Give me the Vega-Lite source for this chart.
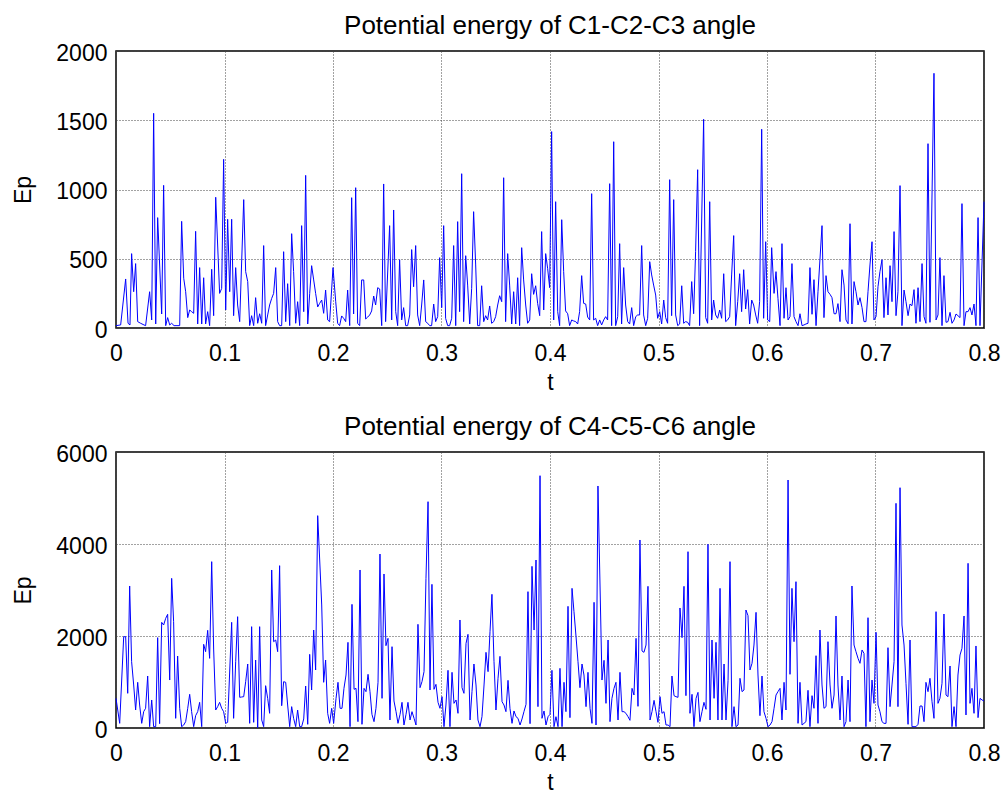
{
"$schema": "https://vega.github.io/schema/vega-lite/v6.json",
"background": "white",
"padding": {"left": 12, "top": 12, "right": 20, "bottom": 2},
"config": {
 "font": "Liberation Sans",
 "view": {"stroke": "#000", "strokeWidth": 1.5},
 "axis": {"labelFontSize": 23, "labelColor": "#000", "titleFontSize": 23, "titleFontWeight": "normal", "titleColor": "#000", "domain": false, "ticks": false, "grid": true, "gridColor": "#444", "gridDash": [1, 2], "gridWidth": 1, "labelFlush": false, "labelOverlap": false, "labelFont": "Liberation Sans", "titleFont": "Liberation Sans"},
 "axisX": {"labelPadding": 14, "titlePadding": 6},
 "axisY": {"labelPadding": 9, "titlePadding": 20, "labelOffset": 2},
 "title": {"fontSize": 26, "fontWeight": "normal", "color": "#000", "offset": 3, "font": "Liberation Sans"},
 "concat": {"spacing": 18}
},
"datasets": {
"a": [
{"t":0,"ep":17},{"t":0.0043,"ep":22},{"t":0.0089,"ep":354},{"t":0.0111,"ep":34},{"t":0.0129,"ep":22},{"t":0.0144,"ep":537},{"t":0.0163,"ep":262},{"t":0.0181,"ep":465},{"t":0.02,"ep":46},{"t":0.0227,"ep":34},{"t":0.0258,"ep":22},{"t":0.0273,"ep":17},{"t":0.031,"ep":262},{"t":0.0329,"ep":58},{"t":0.0347,"ep":1550},{"t":0.0366,"ep":29},{"t":0.0384,"ep":797},{"t":0.0421,"ep":101},{"t":0.0439,"ep":1030},{"t":0.0458,"ep":17},{"t":0.0476,"ep":75},{"t":0.0495,"ep":22},{"t":0.0513,"ep":34},{"t":0.0535,"ep":17},{"t":0.0562,"ep":17},{"t":0.0587,"ep":17},{"t":0.0605,"ep":770},{"t":0.0624,"ep":359},{"t":0.0642,"ep":262},{"t":0.0661,"ep":75},{"t":0.0679,"ep":130},{"t":0.0697,"ep":118},{"t":0.0716,"ep":106},{"t":0.0734,"ep":698},{"t":0.0753,"ep":29},{"t":0.0771,"ep":436},{"t":0.079,"ep":29},{"t":0.0808,"ep":363},{"t":0.0826,"ep":29},{"t":0.0845,"ep":118},{"t":0.0863,"ep":17},{"t":0.0882,"ep":424},{"t":0.09,"ep":89},{"t":0.0919,"ep":944},{"t":0.0955,"ep":250},{"t":0.0974,"ep":286},{"t":0.0992,"ep":1218},{"t":0.1011,"ep":130},{"t":0.1029,"ep":785},{"t":0.1048,"ep":262},{"t":0.1066,"ep":785},{"t":0.1084,"ep":89},{"t":0.1103,"ep":436},{"t":0.1121,"ep":166},{"t":0.114,"ep":46},{"t":0.1177,"ep":927},{"t":0.1195,"ep":407},{"t":0.1214,"ep":335},{"t":0.1232,"ep":17},{"t":0.125,"ep":89},{"t":0.1269,"ep":17},{"t":0.1287,"ep":219},{"t":0.1306,"ep":34},{"t":0.1324,"ep":103},{"t":0.1343,"ep":34},{"t":0.1361,"ep":595},{"t":0.1379,"ep":17},{"t":0.1398,"ep":94},{"t":0.1416,"ep":166},{"t":0.1435,"ep":214},{"t":0.1453,"ep":250},{"t":0.1472,"ep":436},{"t":0.149,"ep":46},{"t":0.1508,"ep":17},{"t":0.1527,"ep":17},{"t":0.1545,"ep":551},{"t":0.1564,"ep":46},{"t":0.1582,"ep":320},{"t":0.1601,"ep":17},{"t":0.1619,"ep":681},{"t":0.1637,"ep":407},{"t":0.1656,"ep":34},{"t":0.1674,"ep":190},{"t":0.1693,"ep":17},{"t":0.1711,"ep":739},{"t":0.173,"ep":118},{"t":0.1748,"ep":1102},{"t":0.1767,"ep":29},{"t":0.1785,"ep":248},{"t":0.1803,"ep":450},{"t":0.1822,"ep":347},{"t":0.184,"ep":250},{"t":0.1859,"ep":152},{"t":0.1877,"ep":178},{"t":0.1896,"ep":202},{"t":0.1914,"ep":106},{"t":0.1932,"ep":274},{"t":0.1951,"ep":58},{"t":0.1969,"ep":46},{"t":0.2,"ep":436},
{"t":0.2025,"ep":190},{"t":0.2043,"ep":34},{"t":0.2061,"ep":17},{"t":0.208,"ep":87},{"t":0.2098,"ep":70},{"t":0.2117,"ep":46},{"t":0.2135,"ep":274},{"t":0.2154,"ep":17},{"t":0.2172,"ep":941},{"t":0.219,"ep":101},{"t":0.2209,"ep":1013},{"t":0.2227,"ep":34},{"t":0.2246,"ep":17},{"t":0.2264,"ep":347},{"t":0.2283,"ep":347},{"t":0.2301,"ep":65},{"t":0.232,"ep":79},{"t":0.2338,"ep":94},{"t":0.2356,"ep":123},{"t":0.2375,"ep":231},{"t":0.2393,"ep":166},{"t":0.2412,"ep":291},{"t":0.243,"ep":282},{"t":0.2449,"ep":17},{"t":0.2467,"ep":1040},{"t":0.2485,"ep":46},{"t":0.2522,"ep":739},{"t":0.2541,"ep":58},{"t":0.2559,"ep":852},{"t":0.2578,"ep":118},{"t":0.2596,"ep":17},{"t":0.2614,"ep":493},{"t":0.2633,"ep":58},{"t":0.2651,"ep":147},{"t":0.267,"ep":17},{"t":0.2688,"ep":17},{"t":0.2707,"ep":94},{"t":0.2725,"ep":566},{"t":0.2743,"ep":298},{"t":0.2762,"ep":595},{"t":0.278,"ep":94},{"t":0.2799,"ep":17},{"t":0.2817,"ep":166},{"t":0.2836,"ep":347},{"t":0.2854,"ep":46},{"t":0.2873,"ep":34},{"t":0.2891,"ep":17},{"t":0.2909,"ep":17},{"t":0.2928,"ep":173},{"t":0.2946,"ep":46},{"t":0.2965,"ep":82},{"t":0.2983,"ep":508},{"t":0.3002,"ep":147},{"t":0.302,"ep":739},{"t":0.3038,"ep":70},{"t":0.3057,"ep":17},{"t":0.3075,"ep":17},{"t":0.3094,"ep":70},{"t":0.3112,"ep":595},{"t":0.3131,"ep":17},{"t":0.3149,"ep":768},{"t":0.3167,"ep":118},{"t":0.3186,"ep":1114},{"t":0.3204,"ep":46},{"t":0.3223,"ep":522},{"t":0.3241,"ep":310},{"t":0.326,"ep":29},{"t":0.3278,"ep":286},{"t":0.3296,"ep":840},{"t":0.3315,"ep":455},{"t":0.3333,"ep":17},{"t":0.3352,"ep":17},{"t":0.337,"ep":305},{"t":0.3389,"ep":46},{"t":0.3407,"ep":89},{"t":0.3425,"ep":58},{"t":0.3444,"ep":159},{"t":0.3462,"ep":34},{"t":0.3481,"ep":46},{"t":0.3499,"ep":82},{"t":0.3518,"ep":166},{"t":0.3536,"ep":233},{"t":0.3555,"ep":190},{"t":0.3573,"ep":1085},{"t":0.3591,"ep":46},{"t":0.361,"ep":537},{"t":0.3628,"ep":310},{"t":0.3647,"ep":29},{"t":0.3665,"ep":262},{"t":0.3684,"ep":29},{"t":0.3702,"ep":363},{"t":0.372,"ep":17},{"t":0.3739,"ep":580},{"t":0.3757,"ep":347},{"t":0.3776,"ep":166},{"t":0.3794,"ep":34},{"t":0.3813,"ep":58},{"t":0.3831,"ep":392},{"t":0.3849,"ep":243},{"t":0.3868,"ep":305},{"t":0.3886,"ep":178},{"t":0.3905,"ep":89},{"t":0.3923,"ep":696},{"t":0.3942,"ep":130},{"t":0.396,"ep":537},{"t":0.3978,"ep":431},{"t":0.3997,"ep":291},{"t":0.4015,"ep":1418},
{"t":0.4034,"ep":58},{"t":0.4052,"ep":912},{"t":0.4071,"ep":118},{"t":0.4089,"ep":17},{"t":0.4108,"ep":782},{"t":0.4126,"ep":407},{"t":0.4144,"ep":123},{"t":0.4163,"ep":103},{"t":0.4181,"ep":17},{"t":0.42,"ep":58},{"t":0.4218,"ep":51},{"t":0.4237,"ep":46},{"t":0.4255,"ep":29},{"t":0.4273,"ep":118},{"t":0.4292,"ep":378},{"t":0.431,"ep":178},{"t":0.4329,"ep":173},{"t":0.4347,"ep":79},{"t":0.4366,"ep":58},{"t":0.4384,"ep":970},{"t":0.4402,"ep":58},{"t":0.4421,"ep":70},{"t":0.4439,"ep":17},{"t":0.4458,"ep":58},{"t":0.4476,"ep":22},{"t":0.4495,"ep":58},{"t":0.4513,"ep":82},{"t":0.4531,"ep":58},{"t":0.455,"ep":1042},{"t":0.4568,"ep":17},{"t":0.4587,"ep":1345},{"t":0.4605,"ep":17},{"t":0.4624,"ep":82},{"t":0.4642,"ep":609},{"t":0.466,"ep":29},{"t":0.4679,"ep":436},{"t":0.4697,"ep":166},{"t":0.4716,"ep":46},{"t":0.4734,"ep":29},{"t":0.4753,"ep":147},{"t":0.4771,"ep":17},{"t":0.479,"ep":82},{"t":0.4808,"ep":94},{"t":0.4826,"ep":94},{"t":0.4845,"ep":595},{"t":0.4863,"ep":94},{"t":0.4882,"ep":17},{"t":0.49,"ep":70},{"t":0.4919,"ep":479},{"t":0.4937,"ep":383},{"t":0.4955,"ep":310},{"t":0.4974,"ep":238},{"t":0.4992,"ep":70},{"t":0.5011,"ep":118},{"t":0.5029,"ep":29},{"t":0.5048,"ep":202},{"t":0.5066,"ep":75},{"t":0.5084,"ep":34},{"t":0.5103,"ep":1071},{"t":0.5121,"ep":89},{"t":0.514,"ep":927},{"t":0.5158,"ep":94},{"t":0.5177,"ep":17},{"t":0.5195,"ep":29},{"t":0.5214,"ep":305},{"t":0.5232,"ep":34},{"t":0.525,"ep":46},{"t":0.5269,"ep":41},{"t":0.5287,"ep":17},{"t":0.5306,"ep":335},{"t":0.5324,"ep":103},{"t":0.5342,"ep":551},{"t":0.5361,"ep":1143},{"t":0.5379,"ep":17},{"t":0.5416,"ep":1507},{"t":0.5435,"ep":75},{"t":0.5453,"ep":34},{"t":0.5472,"ep":912},{"t":0.549,"ep":58},{"t":0.5508,"ep":202},{"t":0.5527,"ep":94},{"t":0.5545,"ep":70},{"t":0.5564,"ep":130},{"t":0.5582,"ep":70},{"t":0.5601,"ep":392},{"t":0.5619,"ep":46},{"t":0.5637,"ep":58},{"t":0.5656,"ep":82},{"t":0.5674,"ep":383},{"t":0.5693,"ep":667},{"t":0.5711,"ep":17},{"t":0.573,"ep":190},{"t":0.5748,"ep":392},{"t":0.5766,"ep":118},{"t":0.5785,"ep":421},{"t":0.5803,"ep":137},{"t":0.5822,"ep":277},{"t":0.584,"ep":29},{"t":0.5859,"ep":202},{"t":0.5877,"ep":166},{"t":0.5896,"ep":94},{"t":0.5914,"ep":34},{"t":0.5932,"ep":190},{"t":0.5951,"ep":1435},{"t":0.5969,"ep":70},{"t":0.5988,"ep":623},{"t":0.6006,"ep":58},{"t":0.6025,"ep":46},{"t":0.6043,"ep":580},
{"t":0.6065,"ep":250},{"t":0.6083,"ep":407},{"t":0.6101,"ep":214},{"t":0.612,"ep":17},{"t":0.6138,"ep":609},{"t":0.6157,"ep":70},{"t":0.6175,"ep":291},{"t":0.6194,"ep":58},{"t":0.6212,"ep":82},{"t":0.623,"ep":465},{"t":0.6249,"ep":82},{"t":0.6267,"ep":46},{"t":0.6286,"ep":17},{"t":0.6304,"ep":103},{"t":0.6323,"ep":17},{"t":0.6341,"ep":22},{"t":0.6359,"ep":29},{"t":0.6378,"ep":34},{"t":0.6396,"ep":436},{"t":0.6415,"ep":99},{"t":0.6433,"ep":349},{"t":0.6452,"ep":17},{"t":0.647,"ep":262},{"t":0.6507,"ep":739},{"t":0.6525,"ep":75},{"t":0.6544,"ep":378},{"t":0.6562,"ep":262},{"t":0.6581,"ep":243},{"t":0.6599,"ep":219},{"t":0.6618,"ep":103},{"t":0.6636,"ep":103},{"t":0.6654,"ep":176},{"t":0.6673,"ep":46},{"t":0.6691,"ep":421},{"t":0.671,"ep":310},{"t":0.6728,"ep":58},{"t":0.6747,"ep":31},{"t":0.6765,"ep":753},{"t":0.6783,"ep":29},{"t":0.6802,"ep":335},{"t":0.682,"ep":262},{"t":0.6839,"ep":166},{"t":0.6857,"ep":219},{"t":0.6876,"ep":147},{"t":0.6894,"ep":46},{"t":0.6912,"ep":46},{"t":0.6931,"ep":262},{"t":0.6949,"ep":455},{"t":0.6968,"ep":623},{"t":0.6986,"ep":58},{"t":0.7005,"ep":82},{"t":0.7023,"ep":298},{"t":0.7041,"ep":407},{"t":0.706,"ep":493},{"t":0.7078,"ep":75},{"t":0.7097,"ep":363},{"t":0.7115,"ep":94},{"t":0.7134,"ep":450},{"t":0.7152,"ep":190},{"t":0.7171,"ep":696},{"t":0.7189,"ep":89},{"t":0.7207,"ep":262},{"t":0.7226,"ep":1028},{"t":0.7244,"ep":17},{"t":0.7263,"ep":274},{"t":0.7281,"ep":190},{"t":0.73,"ep":89},{"t":0.7318,"ep":173},{"t":0.7336,"ep":161},{"t":0.7355,"ep":277},{"t":0.7373,"ep":34},{"t":0.7392,"ep":291},{"t":0.741,"ep":46},{"t":0.7429,"ep":465},{"t":0.7447,"ep":82},{"t":0.7465,"ep":34},{"t":0.7484,"ep":1331},{"t":0.7502,"ep":41},{"t":0.7539,"ep":1839},{"t":0.7558,"ep":58},{"t":0.7576,"ep":94},{"t":0.7594,"ep":508},{"t":0.7613,"ep":17},{"t":0.7631,"ep":378},{"t":0.765,"ep":41},{"t":0.7668,"ep":46},{"t":0.7687,"ep":113},{"t":0.7705,"ep":34},{"t":0.7724,"ep":58},{"t":0.7742,"ep":101},{"t":0.776,"ep":89},{"t":0.7779,"ep":75},{"t":0.7797,"ep":898},{"t":0.7816,"ep":17},{"t":0.7834,"ep":118},{"t":0.7853,"ep":118},{"t":0.7871,"ep":147},{"t":0.7889,"ep":94},{"t":0.7908,"ep":173},{"t":0.7926,"ep":17},{"t":0.7945,"ep":797},{"t":0.7963,"ep":17},{"t":0.8,"ep":912}
],
"b": [
{"t":0,"ep":645},{"t":0.0034,"ep":101},{"t":0.0071,"ep":1985},{"t":0.0089,"ep":1985},{"t":0.0108,"ep":754},{"t":0.0126,"ep":3087},{"t":0.0144,"ep":1442},{"t":0.0163,"ep":935},{"t":0.0181,"ep":391},{"t":0.02,"ep":993},{"t":0.0218,"ep":500},{"t":0.0237,"ep":101},{"t":0.0255,"ep":355},{"t":0.0273,"ep":428},{"t":0.0292,"ep":1130},{"t":0.031,"ep":29},{"t":0.0329,"ep":609},{"t":0.0347,"ep":29},{"t":0.0366,"ep":29},{"t":0.0384,"ep":1964},{"t":0.0402,"ep":94},{"t":0.0421,"ep":2297},{"t":0.0439,"ep":2239},{"t":0.0458,"ep":2384},{"t":0.0476,"ep":2471},{"t":0.0495,"ep":1043},{"t":0.0513,"ep":3253},{"t":0.0531,"ep":2312},{"t":0.055,"ep":210},{"t":0.0568,"ep":1565},{"t":0.0587,"ep":428},{"t":0.0605,"ep":29},{"t":0.0624,"ep":65},{"t":0.0642,"ep":138},{"t":0.0661,"ep":428},{"t":0.0679,"ep":732},{"t":0.0697,"ep":355},{"t":0.0716,"ep":29},{"t":0.0734,"ep":268},{"t":0.0753,"ep":355},{"t":0.0771,"ep":558},{"t":0.079,"ep":29},{"t":0.0808,"ep":1819},{"t":0.0826,"ep":1659},{"t":0.0845,"ep":2123},{"t":0.0863,"ep":1514},{"t":0.0882,"ep":3616},{"t":0.09,"ep":1717},{"t":0.0919,"ep":391},{"t":0.0937,"ep":464},{"t":0.0955,"ep":558},{"t":0.0974,"ep":428},{"t":0.0992,"ep":355},{"t":0.1011,"ep":101},{"t":0.1029,"ep":123},{"t":0.1066,"ep":2297},{"t":0.1084,"ep":210},{"t":0.1103,"ep":1442},{"t":0.1121,"ep":2420},{"t":0.114,"ep":667},{"t":0.1158,"ep":674},{"t":0.1177,"ep":681},{"t":0.1195,"ep":1007},{"t":0.1214,"ep":1391},{"t":0.1232,"ep":101},{"t":0.125,"ep":2203},{"t":0.1269,"ep":123},{"t":0.1287,"ep":1478},{"t":0.1306,"ep":7},{"t":0.1324,"ep":2203},{"t":0.1343,"ep":174},{"t":0.1361,"ep":29},{"t":0.1379,"ep":920},{"t":0.1398,"ep":645},{"t":0.1416,"ep":319},{"t":0.1435,"ep":3435},{"t":0.1453,"ep":1877},{"t":0.1472,"ep":1913},{"t":0.149,"ep":1659},{"t":0.1508,"ep":3529},{"t":0.1527,"ep":485},{"t":0.1545,"ep":1007},{"t":0.1564,"ep":993},{"t":0.1582,"ep":500},{"t":0.1601,"ep":29},{"t":0.1619,"ep":464},{"t":0.1637,"ep":210},{"t":0.1656,"ep":29},{"t":0.1674,"ep":391},{"t":0.1693,"ep":29},{"t":0.1711,"ep":29},{"t":0.173,"ep":196},{"t":0.1748,"ep":913},{"t":0.1767,"ep":80},{"t":0.1785,"ep":1601},{"t":0.1803,"ep":826},{"t":0.1822,"ep":2130},{"t":0.184,"ep":1261},{"t":0.1859,"ep":4616},{"t":0.1896,"ep":2674},{"t":0.1914,"ep":993},{"t":0.1932,"ep":1478},{"t":0.1951,"ep":319},{"t":0.1969,"ep":101},{"t":0.1988,"ep":428},{"t":0.2006,"ep":101},
{"t":0.2028,"ep":645},{"t":0.2046,"ep":993},{"t":0.2065,"ep":428},{"t":0.2083,"ep":428},{"t":0.2101,"ep":862},{"t":0.212,"ep":1152},{"t":0.2138,"ep":1862},{"t":0.2157,"ep":29},{"t":0.2175,"ep":2688},{"t":0.2194,"ep":841},{"t":0.2212,"ep":862},{"t":0.223,"ep":138},{"t":0.2249,"ep":3435},{"t":0.2267,"ep":80},{"t":0.2286,"ep":862},{"t":0.2304,"ep":790},{"t":0.2323,"ep":1167},{"t":0.2341,"ep":790},{"t":0.2359,"ep":297},{"t":0.2378,"ep":138},{"t":0.2396,"ep":428},{"t":0.2415,"ep":993},{"t":0.2433,"ep":3782},{"t":0.2452,"ep":645},{"t":0.247,"ep":3348},{"t":0.2488,"ep":1790},{"t":0.2507,"ep":1949},{"t":0.2525,"ep":174},{"t":0.2544,"ep":1768},{"t":0.2562,"ep":587},{"t":0.2581,"ep":355},{"t":0.2599,"ep":101},{"t":0.2618,"ep":297},{"t":0.2636,"ep":558},{"t":0.2654,"ep":65},{"t":0.2673,"ep":297},{"t":0.2691,"ep":558},{"t":0.271,"ep":174},{"t":0.2728,"ep":355},{"t":0.2747,"ep":210},{"t":0.2765,"ep":65},{"t":0.2783,"ep":2254},{"t":0.2802,"ep":877},{"t":0.282,"ep":1007},{"t":0.2839,"ep":1225},{"t":0.2857,"ep":3253},{"t":0.2876,"ep":4920},{"t":0.2894,"ep":826},{"t":0.2912,"ep":3123},{"t":0.2931,"ep":841},{"t":0.2949,"ep":949},{"t":0.2968,"ep":558},{"t":0.2986,"ep":428},{"t":0.3005,"ep":681},{"t":0.3023,"ep":29},{"t":0.3041,"ep":500},{"t":0.306,"ep":1254},{"t":0.3078,"ep":29},{"t":0.3097,"ep":1210},{"t":0.3115,"ep":536},{"t":0.3134,"ep":609},{"t":0.3152,"ep":319},{"t":0.317,"ep":2348},{"t":0.3189,"ep":877},{"t":0.3207,"ep":754},{"t":0.3226,"ep":1840},{"t":0.3244,"ep":2036},{"t":0.3263,"ep":174},{"t":0.3281,"ep":790},{"t":0.3299,"ep":1391},{"t":0.3318,"ep":935},{"t":0.3336,"ep":174},{"t":0.3355,"ep":29},{"t":0.3373,"ep":246},{"t":0.3392,"ep":935},{"t":0.341,"ep":1645},{"t":0.3429,"ep":1225},{"t":0.3447,"ep":2094},{"t":0.3465,"ep":2906},{"t":0.3484,"ep":1442},{"t":0.3502,"ep":391},{"t":0.3521,"ep":1080},{"t":0.3539,"ep":1558},{"t":0.3558,"ep":572},{"t":0.3576,"ep":500},{"t":0.3594,"ep":355},{"t":0.3613,"ep":1036},{"t":0.3631,"ep":428},{"t":0.365,"ep":101},{"t":0.3668,"ep":370},{"t":0.3687,"ep":246},{"t":0.3705,"ep":210},{"t":0.3724,"ep":65},{"t":0.3742,"ep":196},{"t":0.376,"ep":355},{"t":0.3779,"ep":514},{"t":0.3797,"ep":2964},{"t":0.3816,"ep":94},{"t":0.3834,"ep":3514},{"t":0.3853,"ep":2130},{"t":0.3871,"ep":3652},{"t":0.3889,"ep":464},{"t":0.3908,"ep":5485},{"t":0.3926,"ep":210},{"t":0.3945,"ep":370},{"t":0.3963,"ep":65},{"t":0.3982,"ep":246},{"t":0.4,"ep":297},{"t":0.4018,"ep":1254},
{"t":0.4037,"ep":29},{"t":0.4055,"ep":246},{"t":0.4074,"ep":29},{"t":0.4092,"ep":1297},{"t":0.4111,"ep":29},{"t":0.4129,"ep":993},{"t":0.4147,"ep":355},{"t":0.4166,"ep":2645},{"t":0.4184,"ep":225},{"t":0.4203,"ep":3036},{"t":0.4221,"ep":2529},{"t":0.424,"ep":1985},{"t":0.4258,"ep":1442},{"t":0.4276,"ep":877},{"t":0.4295,"ep":1391},{"t":0.4313,"ep":1152},{"t":0.4332,"ep":464},{"t":0.435,"ep":1210},{"t":0.4369,"ep":428},{"t":0.4387,"ep":101},{"t":0.4406,"ep":2732},{"t":0.4424,"ep":65},{"t":0.4442,"ep":5261},{"t":0.4479,"ep":1043},{"t":0.4498,"ep":1471},{"t":0.4516,"ep":536},{"t":0.4535,"ep":1913},{"t":0.4553,"ep":138},{"t":0.4571,"ep":645},{"t":0.459,"ep":862},{"t":0.4608,"ep":993},{"t":0.4627,"ep":174},{"t":0.4645,"ep":1210},{"t":0.4664,"ep":355},{"t":0.4682,"ep":355},{"t":0.47,"ep":319},{"t":0.4719,"ep":246},{"t":0.4737,"ep":167},{"t":0.4756,"ep":862},{"t":0.4774,"ep":717},{"t":0.4793,"ep":1949},{"t":0.4811,"ep":471},{"t":0.4829,"ep":4087},{"t":0.4848,"ep":1674},{"t":0.4866,"ep":1645},{"t":0.4885,"ep":1804},{"t":0.4903,"ep":3080},{"t":0.4922,"ep":174},{"t":0.494,"ep":355},{"t":0.4959,"ep":601},{"t":0.4977,"ep":355},{"t":0.4995,"ep":123},{"t":0.5014,"ep":681},{"t":0.5032,"ep":319},{"t":0.5051,"ep":355},{"t":0.5069,"ep":65},{"t":0.5088,"ep":65},{"t":0.5106,"ep":29},{"t":0.5124,"ep":1130},{"t":0.5143,"ep":703},{"t":0.5161,"ep":681},{"t":0.518,"ep":667},{"t":0.5198,"ep":2609},{"t":0.5217,"ep":1964},{"t":0.5235,"ep":3080},{"t":0.5253,"ep":703},{"t":0.5272,"ep":3833},{"t":0.529,"ep":319},{"t":0.5309,"ep":732},{"t":0.5327,"ep":29},{"t":0.5346,"ep":645},{"t":0.5364,"ep":775},{"t":0.5382,"ep":138},{"t":0.5401,"ep":355},{"t":0.5419,"ep":558},{"t":0.5438,"ep":406},{"t":0.5456,"ep":3993},{"t":0.5475,"ep":174},{"t":0.5493,"ep":1913},{"t":0.5512,"ep":645},{"t":0.553,"ep":1862},{"t":0.5548,"ep":174},{"t":0.5567,"ep":3036},{"t":0.5585,"ep":174},{"t":0.5604,"ep":1391},{"t":0.5622,"ep":174},{"t":0.5641,"ep":1036},{"t":0.5659,"ep":3616},{"t":0.5677,"ep":29},{"t":0.5696,"ep":464},{"t":0.5714,"ep":29},{"t":0.5733,"ep":65},{"t":0.5751,"ep":1080},{"t":0.577,"ep":790},{"t":0.5788,"ep":826},{"t":0.5806,"ep":2565},{"t":0.5825,"ep":2442},{"t":0.5843,"ep":1261},{"t":0.5862,"ep":1406},{"t":0.588,"ep":1804},{"t":0.5899,"ep":2514},{"t":0.5917,"ep":1152},{"t":0.5935,"ep":268},{"t":0.5954,"ep":1130},{"t":0.5972,"ep":355},{"t":0.5991,"ep":210},{"t":0.6009,"ep":29},{"t":0.6028,"ep":65},{"t":0.6046,"ep":138},
{"t":0.6065,"ep":428},{"t":0.6083,"ep":717},{"t":0.6101,"ep":790},{"t":0.612,"ep":862},{"t":0.6138,"ep":174},{"t":0.6157,"ep":993},{"t":0.6175,"ep":391},{"t":0.6194,"ep":5391},{"t":0.6212,"ep":1167},{"t":0.623,"ep":3036},{"t":0.6249,"ep":1877},{"t":0.6267,"ep":3181},{"t":0.6286,"ep":101},{"t":0.6304,"ep":993},{"t":0.6323,"ep":65},{"t":0.6341,"ep":101},{"t":0.6359,"ep":138},{"t":0.6378,"ep":819},{"t":0.6396,"ep":29},{"t":0.6415,"ep":703},{"t":0.6433,"ep":428},{"t":0.6452,"ep":1572},{"t":0.647,"ep":101},{"t":0.6488,"ep":2130},{"t":0.6507,"ep":935},{"t":0.6525,"ep":428},{"t":0.6544,"ep":464},{"t":0.6562,"ep":1877},{"t":0.6581,"ep":935},{"t":0.6599,"ep":428},{"t":0.6618,"ep":717},{"t":0.6636,"ep":2435},{"t":0.6654,"ep":935},{"t":0.6673,"ep":174},{"t":0.6691,"ep":1130},{"t":0.671,"ep":29},{"t":0.6728,"ep":138},{"t":0.6747,"ep":1043},{"t":0.6765,"ep":138},{"t":0.6783,"ep":3087},{"t":0.6802,"ep":1804},{"t":0.682,"ep":1659},{"t":0.6839,"ep":1514},{"t":0.6857,"ep":1406},{"t":0.6876,"ep":1696},{"t":0.6894,"ep":1623},{"t":0.6912,"ep":29},{"t":0.6931,"ep":2398},{"t":0.6949,"ep":138},{"t":0.6968,"ep":1043},{"t":0.6986,"ep":536},{"t":0.7005,"ep":2080},{"t":0.7023,"ep":500},{"t":0.7041,"ep":355},{"t":0.706,"ep":138},{"t":0.7078,"ep":101},{"t":0.7097,"ep":101},{"t":0.7115,"ep":1746},{"t":0.7134,"ep":464},{"t":0.7152,"ep":935},{"t":0.7171,"ep":1442},{"t":0.7189,"ep":4884},{"t":0.7207,"ep":464},{"t":0.7226,"ep":5224},{"t":0.7244,"ep":2239},{"t":0.7263,"ep":1804},{"t":0.7281,"ep":971},{"t":0.73,"ep":80},{"t":0.7318,"ep":1913},{"t":0.7336,"ep":29},{"t":0.7355,"ep":29},{"t":0.7373,"ep":29},{"t":0.7392,"ep":80},{"t":0.741,"ep":478},{"t":0.7429,"ep":478},{"t":0.7447,"ep":138},{"t":0.7465,"ep":993},{"t":0.7484,"ep":790},{"t":0.7502,"ep":1080},{"t":0.7521,"ep":572},{"t":0.7539,"ep":210},{"t":0.7558,"ep":2529},{"t":0.7576,"ep":536},{"t":0.7594,"ep":645},{"t":0.7613,"ep":971},{"t":0.7631,"ep":2478},{"t":0.765,"ep":717},{"t":0.7668,"ep":681},{"t":0.7687,"ep":1348},{"t":0.7705,"ep":29},{"t":0.7724,"ep":464},{"t":0.7742,"ep":29},{"t":0.776,"ep":1152},{"t":0.7779,"ep":1587},{"t":0.7797,"ep":1732},{"t":0.7816,"ep":2435},{"t":0.7834,"ep":283},{"t":0.7853,"ep":3580},{"t":0.7871,"ep":536},{"t":0.7889,"ep":862},{"t":0.7908,"ep":319},{"t":0.7926,"ep":1783},{"t":0.7945,"ep":225},{"t":0.7963,"ep":645},{"t":0.7982,"ep":609},{"t":0.8,"ep":587}
]
},
"vconcat": [
 {
  "width": 868, "height": 277,
  "title": "Potential energy of C1-C2-C3 angle",
  "data": {"name": "a"},
  "mark": {"type": "line", "color": "#0000ff", "strokeWidth": 1},
  "encoding": {
   "x": {"field": "t", "type": "quantitative", "scale": {"domain": [0, 0.8], "nice": false, "zero": false}, "axis": {"title": "t", "values": [0, 0.1, 0.2, 0.3, 0.4, 0.5, 0.6, 0.7, 0.8], "format": "~g"}},
   "y": {"field": "ep", "type": "quantitative", "scale": {"domain": [0, 2000], "nice": false}, "axis": {"title": "Ep", "values": [0, 500, 1000, 1500, 2000], "format": "d"}}
  }
 },
 {
  "width": 868, "height": 276,
  "title": "Potential energy of C4-C5-C6 angle",
  "data": {"name": "b"},
  "mark": {"type": "line", "color": "#0000ff", "strokeWidth": 1},
  "encoding": {
   "x": {"field": "t", "type": "quantitative", "scale": {"domain": [0, 0.8], "nice": false, "zero": false}, "axis": {"title": "t", "values": [0, 0.1, 0.2, 0.3, 0.4, 0.5, 0.6, 0.7, 0.8], "format": "~g"}},
   "y": {"field": "ep", "type": "quantitative", "scale": {"domain": [0, 6000], "nice": false}, "axis": {"title": "Ep", "values": [0, 2000, 4000, 6000], "format": "d"}}
  }
 }
]
}
